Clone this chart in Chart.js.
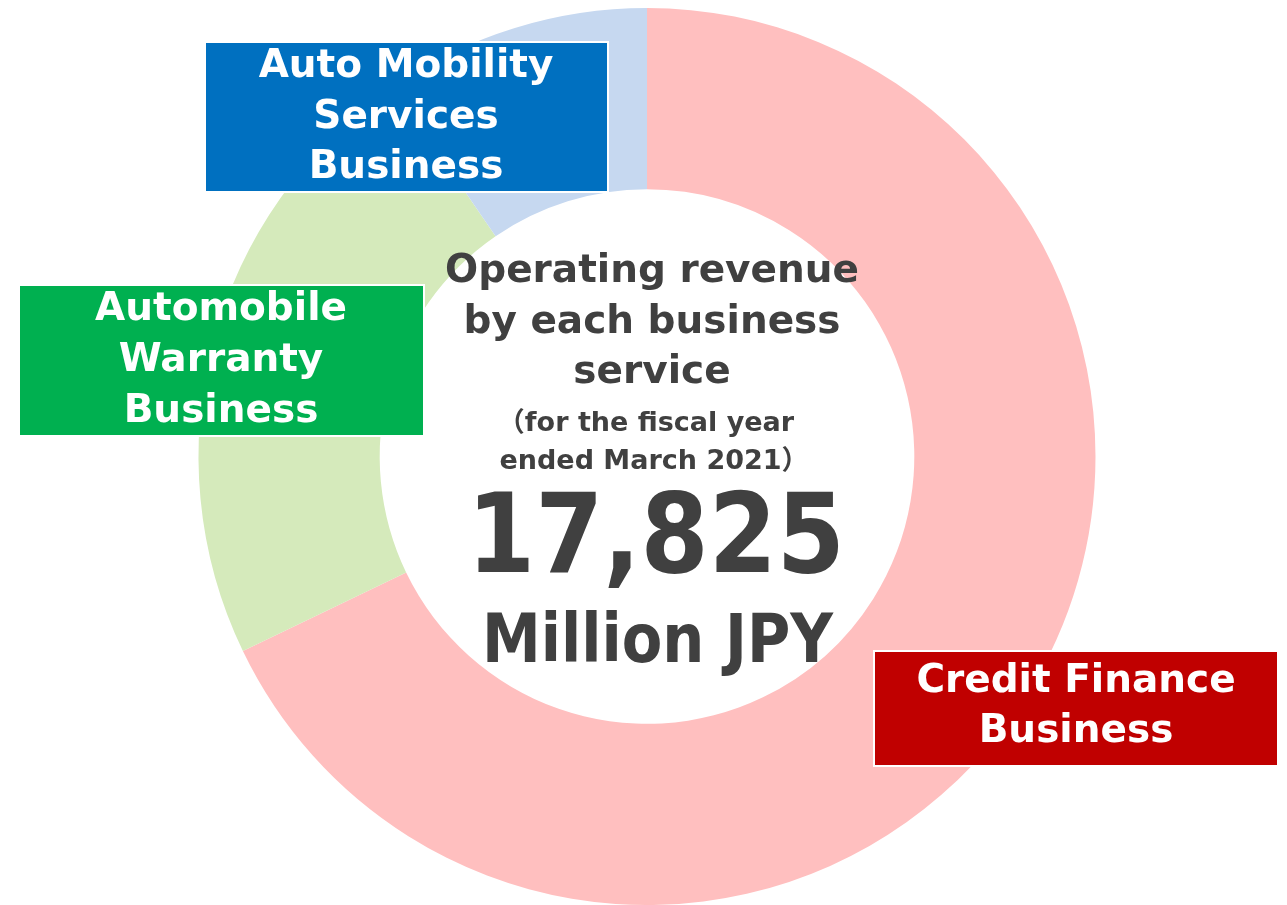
<!DOCTYPE html>
<html>
<head>
<meta charset="utf-8">
<script src="https://cdn.jsdelivr.net/npm/chart.js@4.4.1/dist/chart.umd.min.js"></script>
<style>
html,body{margin:0;padding:0;background:#fff;}
#c{display:block;}
</style>
</head>
<body>
<canvas id="c" width="1287" height="905"></canvas>
<script>
// ---- data ----
const categories = ['Credit Finance Business', 'Automobile Warranty Business', 'Auto Mobility Services Business'];
const revenue = [12096, 4021, 1708]; // million JPY
const sliceColors = ['#FFBFBF', '#D5EABB', '#C6D8F0'];
const boxColors = ['#C00000', '#00B050', '#0070C0'];
const boxLabelLines = [
  ['Credit Finance', 'Business'],
  ['Automobile', 'Warranty', 'Business'],
  ['Auto Mobility', 'Services', 'Business']
];
const titleLines = ['Operating revenue', 'by each business', 'service'];
const noteLines = ['（for the fiscal year', 'ended March 2021）'];
const totalLabel = '17,825';
const unitLabel = 'Million JPY';

// ---- layout (positions/styles) ----
const boxes = [
  {x: 874, y: 651, w: 404, h: 115, cx: 1076, baselines: [692, 742]},
  {x: 19, y: 285, w: 405, h: 151, cx: 221, baselines: [320, 371, 422]},
  {x: 205, y: 42, w: 403, h: 150, cx: 406, baselines: [77, 128, 178]}
];
const FONT = '"DejaVu Sans", Verdana, "Noto Sans CJK JP", sans-serif';

function fitText(ctx, text, cx, baseline, px, targetW) {
  ctx.font = 'bold ' + px + 'px ' + FONT;
  const w = ctx.measureText(text).width;
  const s = targetW / w;
  ctx.save();
  ctx.translate(cx, baseline);
  ctx.scale(s, 1);
  ctx.textAlign = 'center';
  ctx.fillText(text, 0, 0);
  ctx.restore();
}

const overlay = {
  id: 'overlay',
  afterDraw(chart) {
    const ctx = chart.ctx;
    ctx.save();
    // center texts
    ctx.fillStyle = '#404040';
    ctx.textAlign = 'center';
    ctx.textBaseline = 'alphabetic';
    ctx.font = 'bold 39px ' + FONT;
    const tb = [282, 333, 383];
    titleLines.forEach((t, i) => ctx.fillText(t, 652, tb[i]));
    ctx.font = 'bold 27px ' + FONT;
    const nb = [431, 469];
    const nx = [646, 654];
    noteLines.forEach((t, i) => ctx.fillText(t, nx[i], nb[i]));
    fitText(ctx, totalLabel, 656, 572, 110, 378);
    fitText(ctx, unitLabel, 657.5, 662, 67, 351);
    // label boxes
    boxes.forEach((b, i) => {
      ctx.fillStyle = boxColors[i];
      ctx.fillRect(b.x, b.y, b.w, b.h);
      ctx.strokeStyle = '#ffffff';
      ctx.lineWidth = 2;
      ctx.strokeRect(b.x, b.y, b.w, b.h);
      ctx.fillStyle = '#ffffff';
      ctx.font = 'bold 39px ' + FONT;
      ctx.textAlign = 'center';
      boxLabelLines[i].forEach((t, j) => ctx.fillText(t, b.cx, b.baselines[j]));
    });
    ctx.restore();
  }
};

new Chart(document.getElementById('c'), {
  type: 'doughnut',
  data: {
    labels: categories,
    datasets: [{
      data: revenue,
      backgroundColor: sliceColors,
      borderWidth: 0,
      hoverOffset: 0
    }]
  },
  options: {
    responsive: false,
    animation: false,
    cutout: '59.6%',
    layout: {padding: {top: 8, bottom: 0, left: 198, right: 191}},
    plugins: {legend: {display: false}, tooltip: {enabled: false}}
  },
  plugins: [overlay]
});
</script>
</body>
</html>
